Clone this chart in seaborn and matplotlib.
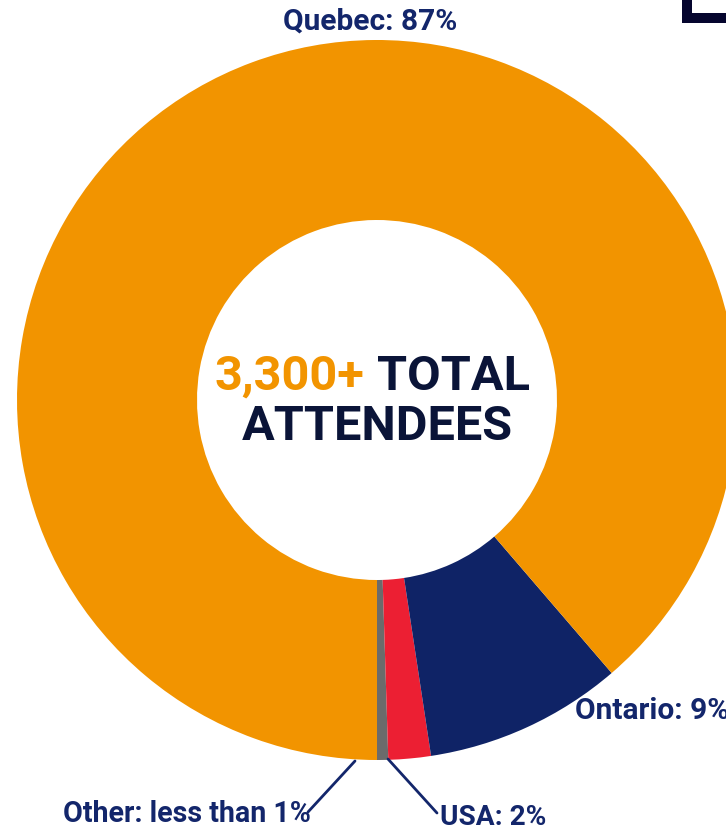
import seaborn as sns
import matplotlib.pyplot as plt
from matplotlib.patches import Rectangle

# Attendee origin shares
regions = ['Other', 'USA', 'Ontario', 'Quebec']
shares = [0.5, 1.9, 8.9, 88.7]
labels = ['Other: less than 1%', 'USA: 2%', 'Ontario: 9%', 'Quebec: 87%']
total_text = '3,300+'

sns.set_theme(style='white')
plt.rcParams['font.family'] = ['Roboto', 'DejaVu Sans']

colors = ['#6b6b6b', '#ec1f33', '#0f2366', '#f29400']
navy = '#13266b'
dark = '#0a1438'

W, H = 726, 831
fig = plt.figure(figsize=(W / 100, H / 100), dpi=100)
ax = fig.add_axes([0, 0, 1, 1])

def py(y):
    # pixel row -> data y
    return H - y

ax.pie(shares, colors=colors, startangle=-90, counterclock=True,
       center=(377, py(400)), radius=360,
       wedgeprops=dict(width=180, linewidth=0))

# pie() resets the limits, so set them afterwards
ax.set_xlim(0, W)
ax.set_ylim(0, H)
ax.set_aspect('equal')
ax.axis('off')

# slice labels
lab = dict(va='baseline', fontweight='bold', color=navy)
ax.text(370, py(30), labels[3], ha='center', fontsize=21.5, **lab)
ax.text(575, py(719), labels[2], ha='left', fontsize=21.5, **lab)
ax.text(63, py(822), labels[0], ha='left', fontsize=20.6, **lab)
ax.text(440, py(825), labels[1], ha='left', fontsize=20.2, **lab)

# leader lines
ax.plot([355, 308], [py(761), py(812)], color=navy, lw=2, solid_capstyle='round')
ax.plot([388, 437], [py(759), py(813)], color=navy, lw=2, solid_capstyle='round')

# centre text
big = dict(va='baseline', fontsize=35, fontweight='bold')
ax.text(364, py(390), total_text, ha='right', color='#f29400', **big)
ax.text(377, py(390), 'TOTAL', ha='left', color=dark, **big)
ax.text(377, py(440), 'ATTENDEES', ha='center', color=dark, **big)

# corner frame at top right
ax.add_patch(Rectangle((682, py(23)), W - 682, 10, color='#05052e', lw=0))
ax.add_patch(Rectangle((682, py(23)), 10, 23, color='#05052e', lw=0))

fig.savefig('out.png', dpi=100)
